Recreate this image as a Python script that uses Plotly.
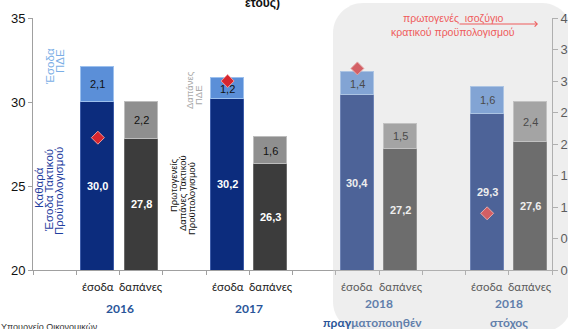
import plotly.graph_objects as go

# ---------------- data ----------------
groups = ["2016", "2017", "2018", "2018"]
group_notes = ["", "", "πραγματοποιηθέν", "στόχος"]
bar_labels = ["έσοδα", "δαπάνες"]
rev_regular = [30.0, 30.2, 30.4, 29.3]      # Καθαρά έσοδα τακτικού προϋπολογισμού
rev_pde = [2.1, 1.2, 1.4, 1.6]              # Έσοδα ΠΔΕ
exp_primary = [27.8, 26.3, 27.2, 27.6]      # Πρωτογενείς δαπάνες τακτικού προϋπολογισμού
exp_pde = [2.2, 1.6, 1.5, 2.4]              # Δαπάνες ΠΔΕ
primary_balance = [2.1, 3.0, 3.2, 0.9]      # πρωτογενές ισοζύγιο (δεξιός άξονας)
left_ticks = [20, 25, 30, 35]
right_ticks = [0, 0.5, 1, 1.5, 2, 2.5, 3, 3.5, 4]

# ---------------- styling ----------------
W, H = 568, 329
ML, MR, MT, MB = 33, 16, 18, 59
PW, PH = W - ML - MR, H - MT - MB
YMIN, YMAX = 20, 35
faded = [False, False, True, True]

NAVY = "#0C2C7D"
LBLUE = "#5B8FD8"
DGRAY = "#3C3C3C"
MGRAY = "#8F8F8F"
RED = "#D7262E"
FONT = "Liberation Sans"
CAL = "Lato"


def px_x(p):
    return (p - ML) / PW


def px_y(p):
    return (H - MB - p) / PH


def fmt(v):
    return f"{v:.1f}".replace(".", ",")


rev_x = [3 * i + 1 for i in range(len(groups))]
exp_x = [3 * i + 2 for i in range(len(groups))]
grp_x = [3 * i + 1.5 for i in range(len(groups))]

fig = go.Figure()
bw = 0.76
fig.add_bar(x=rev_x, y=rev_regular, width=bw, marker=dict(color=NAVY, line=dict(color="#3C5BA8", width=1)),
            showlegend=False, hoverinfo="skip")
fig.add_bar(x=rev_x, y=rev_pde, width=bw, marker=dict(color=LBLUE, line=dict(color="#9CC0EE", width=1)),
            showlegend=False, hoverinfo="skip")
fig.add_bar(x=exp_x, y=exp_primary, width=bw, marker=dict(color=DGRAY, line=dict(color="#6A6A6A", width=1)),
            showlegend=False, hoverinfo="skip")
fig.add_bar(x=exp_x, y=exp_pde, width=bw, marker=dict(color=MGRAY, line=dict(color="#BDBDBD", width=1)),
            showlegend=False, hoverinfo="skip")
fig.add_scatter(x=rev_x, y=primary_balance, yaxis="y2", mode="markers",
                marker=dict(symbol="diamond", size=10, color=RED, line=dict(color="#F19A9A", width=1)),
                showlegend=False, hoverinfo="skip")

ann = []


def A(**kw):
    d = dict(showarrow=False, xanchor="center", yanchor="middle")
    d.update(kw)
    ann.append(d)


# value labels inside bars
for i in range(len(groups)):
    f = faded[i]
    wcol = "#EEEEEE" if f else "white"
    kcol = "#4A4A4A" if f else "#111111"
    A(x=rev_x[i], y=(YMIN + rev_regular[i]) / 2, text="<b>" + fmt(rev_regular[i]) + "</b>",
      font=dict(family=FONT, size=11, color=wcol))
    A(x=rev_x[i], y=rev_regular[i] + rev_pde[i] / 2, text=fmt(rev_pde[i]),
      font=dict(family=FONT, size=11, color=kcol))
    A(x=exp_x[i], y=(YMIN + exp_primary[i]) / 2, text="<b>" + fmt(exp_primary[i]) + "</b>",
      font=dict(family=FONT, size=11, color=wcol))
    A(x=exp_x[i], y=exp_primary[i] + exp_pde[i] / 2, text=fmt(exp_pde[i]),
      font=dict(family=FONT, size=11, color=kcol))
    # category labels
    lcol = "#5C5C5C" if f else "#222222"
    for xx, lab in zip([rev_x[i], exp_x[i]], bar_labels):
        A(x=xx, y=px_y(286), yref="paper", text=lab, font=dict(family=CAL, size=11.5, color=lcol))
    # year labels
    ycol = "#617EAB" if f else "#2A5599"
    if group_notes[i]:
        A(x=grp_x[i], y=px_y(303), yref="paper", text="<b>" + groups[i] + "</b>",
          font=dict(family=CAL, size=12, color=ycol))
        note = group_notes[i]
        if i == 2:
            note_txt = ("<span style='color:#2A5599'>" + note[:4] + "</span>"
                        "<span style='color:#617EAB'>" + note[4:] + "</span>")
        else:
            note_txt = note
        A(x=grp_x[i] - (0.15 if i == 2 else 0), y=px_y(322), yref="paper",
          text="<b>" + note_txt + "</b>", font=dict(family=CAL, size=12, color=ycol))
    else:
        A(x=grp_x[i], y=px_y(308), yref="paper", text="<b>" + groups[i] + "</b>",
          font=dict(family=CAL, size=12, color=ycol))


# rotated series labels (one annotation per line)
def vtext(lines, xs, ycs, color, size):
    for ln, xp, yc in zip(lines, xs, ycs):
        A(x=px_x(xp), y=px_y(yc), xref="paper", yref="paper", text=ln, textangle=-90,
          font=dict(family=FONT, size=size, color=color))


vtext(["Έσοδα", "ΠΔΕ"], [50, 60], [67, 61], "#7AAEE6", 11.5)
vtext(["Καθαρά", "Έσοδα Τακτικού", "Προϋπολογισμού"], [39, 49, 59], [188, 191, 191], "#1F3E9E", 11.5)
vtext(["Δαπάνες", "ΠΔΕ"], [189, 198], [90, 95], "#A8A8A8", 9.5)
vtext(["Πρωτογενείς", "Δαπάνες Τακτικού", "Προϋπολογισμού"], [173, 182, 191], [185, 193, 199], "#111111", 9.5)

# primary balance note and arrow
A(x=px_x(453), y=px_y(18), xref="paper", yref="paper", text="πρωτογενές  ισοζύγιο",
  font=dict(family=FONT, size=10.5, color="#EE5B5B"))
A(x=px_x(453), y=px_y(32), xref="paper", yref="paper", text="κρατικού προϋπολογισμού",
  font=dict(family=FONT, size=10.5, color="#EE5B5B"))
ann.append(dict(x=px_x(538), y=px_y(24), ax=-80, ay=0, xref="paper", yref="paper",
                axref="pixel", ayref="pixel", text="", showarrow=True, arrowhead=4,
                arrowsize=1, arrowwidth=1, arrowcolor="#EE5B5B", standoff=0, startstandoff=0))

# cut-off title and footer
A(x=px_x(262), y=px_y(3), xref="paper", yref="paper", text="<b>έτους)</b>",
  font=dict(family=FONT, size=12, color="#111111"))
A(x=px_x(-1), y=px_y(327), xref="paper", yref="paper", xanchor="left",
  text="Υπουργείο Οικονομικών", font=dict(family=FONT, size=9, color="#333333"))

# rounded translucent overlay over the 2018 area
L, R, T, B, r = 333, 572, 3, 332, 30
k = 0.55 * r


def P(a, b):
    return f"{px_x(a):.5f},{px_y(b):.5f}"


path = (f"M{P(L, T + r)} C{P(L, T + r - k)} {P(L + r - k, T)} {P(L + r, T)} "
        f"L{P(R - r, T)} C{P(R - r + k, T)} {P(R, T + r - k)} {P(R, T + r)} "
        f"L{P(R, B - r)} C{P(R, B - r + k)} {P(R - r + k, B)} {P(R - r, B)} "
        f"L{P(L + r, B)} C{P(L + r - k, B)} {P(L, B - r + k)} {P(L, B - r)} Z")
shapes = [dict(type="path", xref="paper", yref="paper", path=path, layer="above",
               fillcolor="rgba(205,205,205,0.34)", line=dict(width=0))]

fig.update_layout(
    width=W, height=H, margin=dict(l=ML, r=MR, t=MT, b=MB, autoexpand=False),
    paper_bgcolor="white", plot_bgcolor="white",
    barmode="stack", bargap=0, separators=",.",
    annotations=ann, shapes=shapes,
    xaxis=dict(range=[-0.5, 11.5], tickvals=[k2 - 0.5 for k2 in range(13)], ticktext=[""] * 13,
               showticklabels=False, ticks="outside", ticklen=4, tickcolor="#A0A0A0", automargin=False,
               showline=True, linecolor="#A0A0A0", linewidth=1, showgrid=False, zeroline=False, fixedrange=True),
    yaxis=dict(range=[YMIN, YMAX], tickvals=left_ticks, ticks="outside", ticklen=4, tickcolor="#A0A0A0",
               showline=True, linecolor="#A0A0A0", linewidth=1, showgrid=False, zeroline=False, automargin=False,
               tickfont=dict(family=FONT, size=13, color="#111111")),
    yaxis2=dict(range=[0, 4], tickvals=right_ticks, overlaying="y", side="right", ticks="outside",
                ticklen=5, tickcolor="#A0A0A0", showline=True, linecolor="#A0A0A0", linewidth=1, automargin=False,
                showgrid=False, zeroline=False, tickfont=dict(family=FONT, size=13, color="#222222")),
)

fig.write_html("out.html")
